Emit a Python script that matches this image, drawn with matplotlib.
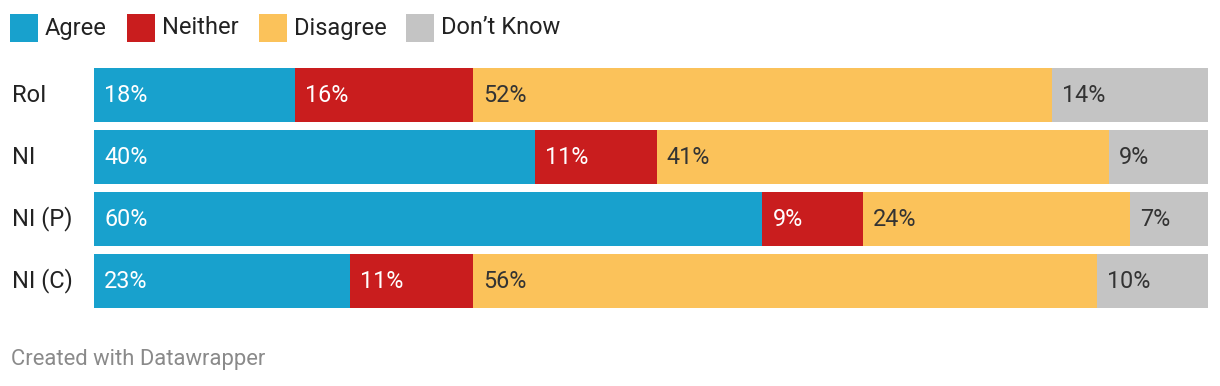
import matplotlib.pyplot as plt
from matplotlib.patches import Rectangle

plt.rcParams['font.family'] = ['Roboto', 'DejaVu Sans']

# data
rows = ["RoI", "NI", "NI (P)", "NI (C)"]
series = ["Agree", "Neither", "Disagree", "Don\u2019t Know"]
agree = [18, 40, 60, 23]
neither = [16, 11, 9, 11]
disagree = [52, 41, 24, 56]
dont_know = [14, 9, 7, 10]

colors = ["#18a1cd", "#c91d1e", "#fbc25a", "#c4c4c4"]
label_colors = ["white", "white", "#333333", "#333333"]

W, H = 1220, 386
fig = plt.figure(figsize=(W / 100, H / 100), dpi=100)

# axes placed in pixel terms: bars run x 94..1208, rows 64..312
ax = fig.add_axes([94 / W, (H - 312) / H, 1114 / W, 248 / H])
ax.set_xlim(0, 100)
ax.set_ylim(len(rows) - 0.5, -0.5)
ax.axis("off")

values = [agree, neither, disagree, dont_know]
totals = [sum(v[i] for v in values) for i in range(len(rows))]
bar_h = 54 / 62

left = [0.0] * len(rows)
for vals, col, lcol in zip(values, colors, label_colors):
    widths = [v / t * 100 for v, t in zip(vals, totals)]
    ax.barh(range(len(rows)), widths, left=left, height=bar_h, color=col, linewidth=0)
    for i, (v, w) in enumerate(zip(vals, widths)):
        ax.annotate(f"{v}%", (left[i], i), xytext=(10, 0), textcoords="offset pixels",
                    ha="left", va="center", color=lcol, fontsize=16.8)
    left = [l + w for l, w in zip(left, widths)]

# row labels
for i, r in enumerate(rows):
    ax.annotate(r, (0, i), xytext=(-82, 0), textcoords="offset pixels",
                ha="left", va="center", color="#222222", fontsize=17)

# legend, laid out left to right
fig.canvas.draw()
renderer = fig.canvas.get_renderer()
x = 10
sq = 28
ly = 28
for name, col in zip(series, colors):
    fig.add_artist(Rectangle((x / W, (H - ly - sq / 2) / H), sq / W, sq / H,
                             transform=fig.transFigure, color=col, linewidth=0))
    t = fig.text((x + sq + 7) / W, (H - ly) / H, name, ha="left", va="center",
                 fontsize=17, color="#222222")
    bb = t.get_window_extent(renderer)
    x = bb.x1 + 20

fig.text(11 / W, (H - 360) / H, "Created with Datawrapper", ha="left", va="center",
         fontsize=15.8, color="#8a8a8a")

fig.savefig("out.png", dpi=100)
